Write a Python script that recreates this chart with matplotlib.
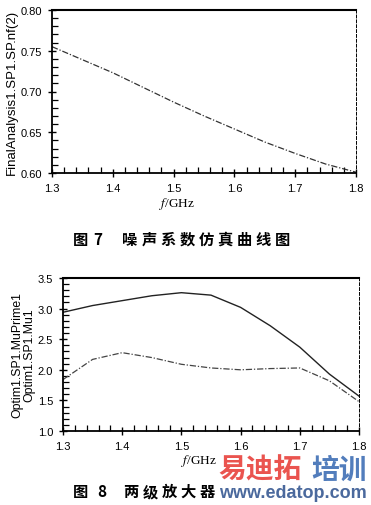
"""Noise figure and stability factor curves of a two-stage amplifier."""

import matplotlib

matplotlib.use("Agg")
import matplotlib.pyplot as plt
from matplotlib.ticker import MultipleLocator

plt.rcParams["font.family"] = ["Liberation Sans", "Noto Sans CJK SC", "DejaVu Sans"]
plt.rcParams["mathtext.fontset"] = "stix"

W, H = 371, 506

# figure 7: noise figure
freq_nf = [1.30, 1.35, 1.40, 1.45, 1.50, 1.55, 1.60, 1.65, 1.70, 1.75, 1.80]
noise_figure = [0.755, 0.739, 0.723, 0.705, 0.687, 0.670, 0.654, 0.638, 0.624, 0.611, 0.601]

# figure 8: stability factors
freq_mu = [1.30, 1.35, 1.40, 1.45, 1.50, 1.55, 1.60, 1.65, 1.70, 1.75, 1.80]
mu_prime = [2.94, 3.05, 3.13, 3.21, 3.26, 3.22, 3.02, 2.72, 2.37, 1.93, 1.57]
mu = [1.84, 2.17, 2.28, 2.20, 2.09, 2.03, 2.00, 2.02, 2.03, 1.82, 1.48]

x_ticks = [1.3, 1.4, 1.5, 1.6, 1.7, 1.8]
nf_ticks = [0.60, 0.65, 0.70, 0.75, 0.80]
mu_ticks = [1.0, 1.5, 2.0, 2.5, 3.0, 3.5]

# the rest of caption 8 is hidden under the site watermark in the source
caption7 = ["图", "7", "噪", "声", "系", "数", "仿", "真", "曲", "线", "图"]
caption8 = ["图", "8", "两", "级", "放", "大", "器"]

fig = plt.figure(figsize=(W / 100, H / 100), dpi=100)
ax1 = fig.add_axes([52 / W, 1 - 174 / H, 304 / W, 163 / H])
ax2 = fig.add_axes([63 / W, 1 - 432 / H, 296 / W, 153 / H])


def style_axis(axis, label_x):
    axis.set_xlim(1.3, 1.8)
    axis.set_xticks(x_ticks)
    axis.set_xticklabels([f"{v:.1f}" for v in x_ticks])
    axis.xaxis.set_minor_locator(MultipleLocator(0.02))
    axis.tick_params(which="major", direction="inout", length=6, width=1.0, labelsize=8, pad=4)
    axis.tick_params(which="minor", direction="in", length=4, width=0.9)
    for side in ["left", "bottom"]:
        axis.spines[side].set_linewidth(1.3)
    axis.spines["top"].set_linewidth(1.5)
    axis.spines["right"].set_linewidth(0.7)
    axis.spines["right"].set_linestyle((0, (3, 2)))
    axis.set_xlabel(r"$f$/GHz", fontfamily="Liberation Serif", fontsize=9.5)
    axis.xaxis.set_label_coords(label_x, -0.135)


ax1.plot(freq_nf, noise_figure, color="#333333", linewidth=0.9, linestyle=(0, (5, 1.5, 1, 1.5)))
style_axis(ax1, 0.41)
ax1.set_ylim(0.60, 0.80)
ax1.set_yticks(nf_ticks)
ax1.set_yticklabels([f"{v:.2f}" for v in nf_ticks])
ax1.yaxis.set_minor_locator(MultipleLocator(0.01))
ax1.set_ylabel("FinalAnalysis1.SP1.SP.nf(2)", fontsize=9.5, labelpad=2)

ax2.plot(freq_mu, mu_prime, color="#222222", linewidth=1.0)
ax2.plot(freq_mu, mu, color="#444444", linewidth=0.9, linestyle=(0, (5, 1.5, 1, 1.5)))
style_axis(ax2, 0.46)
ax2.set_ylim(1.0, 3.5)
ax2.set_yticks(mu_ticks)
ax2.set_yticklabels([f"{v:.1f}" for v in mu_ticks])
ax2.yaxis.set_minor_locator(MultipleLocator(0.1))
ax2.set_ylabel("Optim1.SP1.MuPrime1\nOptim1.SP1.Mu1", fontsize=8.8, labelpad=2, linespacing=0.95)

cap_font = ["Noto Sans CJK SC", "DejaVu Sans"]


def put_caption(chars, x0, x_num, x_text, step, y):
    fig.text(x0 / W, 1 - y / H, chars[0], fontsize=11, fontweight="bold", family=cap_font,
             ha="center", va="center")
    fig.text(x_num / W, 1 - y / H, chars[1], fontsize=11, fontweight="bold", family=cap_font,
             ha="center", va="center")
    for i, ch in enumerate(chars[2:]):
        fig.text((x_text + i * step) / W, 1 - y / H, ch, fontsize=11, fontweight="bold",
                 family=cap_font, ha="center", va="center")


put_caption(caption7, 80, 98, 130, 19, 240)
put_caption(caption8, 81, 102, 131, 19, 492)

# site watermark over the lower caption
fig.text(218 / W, 1 - 471 / H, "易迪拓", fontsize=20, fontweight="bold", family=cap_font,
         color="#e8413c", alpha=0.9, va="center", ha="left")
fig.text(311 / W, 1 - 471 / H, "培训", fontsize=20, fontweight="bold", family=cap_font,
         color="#3f6fb5", alpha=0.9, va="center", ha="left")
fig.text(367 / W, 1 - 494 / H, "www.edatop.com", fontsize=13, fontweight="bold",
         color="#2b4f8c", alpha=0.85, va="center", ha="right")

fig.savefig("out.png", dpi=100)
